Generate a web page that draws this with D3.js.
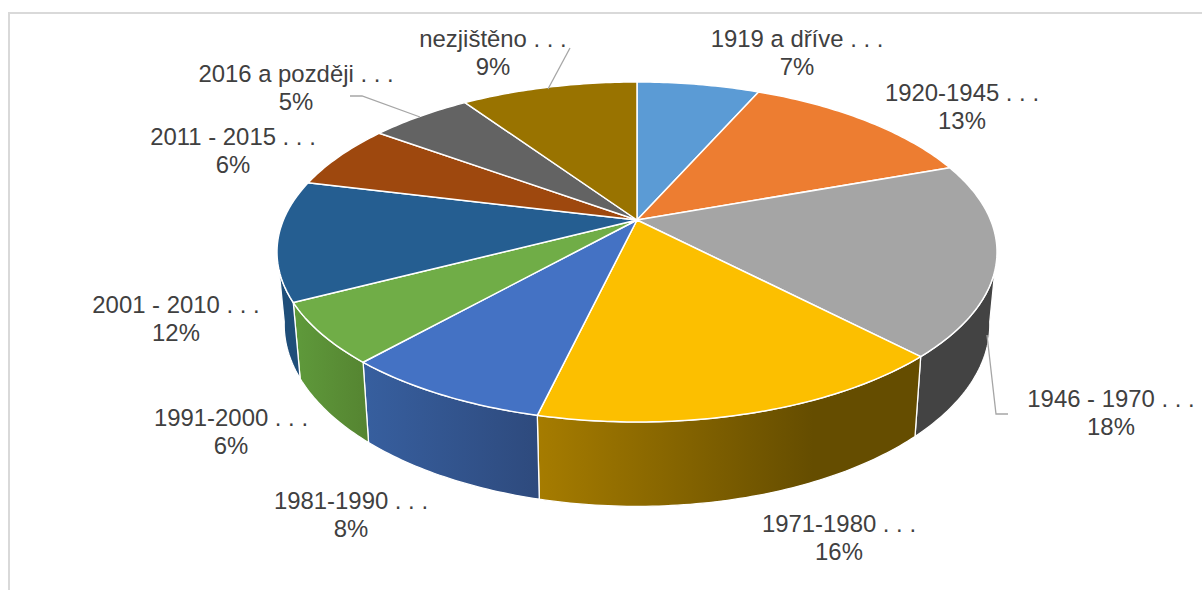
<!DOCTYPE html>
<html><head><meta charset="utf-8">
<script src="https://cdn.jsdelivr.net/npm/d3@7"></script>
<style>html,body{margin:0;padding:0;background:#fff;overflow:hidden}text{font-family:"Liberation Sans",Arial,sans-serif}</style>
</head><body><svg id="c" width="1202" height="590"></svg>
<script>
const categories=["1919 a dříve","1920-1945","1946 - 1970","1971-1980","1981-1990","1991-2000","2001 - 2010","2011 - 2015","2016 a později","nezjištěno"];
const values=[6.6,12.9,18.3,15.9,7.9,5.8,11.4,6.2,5.5,9.5];
const percentLabels=["7%","13%","18%","16%","8%","6%","12%","6%","5%","9%"];
const topColors=["#5b9bd5","#ed7d31","#a5a5a5","#fcbf00","#4472c4","#70ad47","#255e91","#9e480e","#636363","#997300"];
const wallLeft={2:"#434343",3:"#a67c00",4:"#375f9f",5:"#5f9a3b",6:"#1f4e79"};
const wallRight={2:"#434343",3:"#654d00",4:"#2e4a7d",5:"#558431",6:"#1f4e79"};
const labelCx=[797,962,1111,839,351,231,176,233,296,493];
const labelTop=[39,93,399,524,501,418,305,137,74,39];

const svg=d3.select("#c");
const defs=svg.append("defs");
// frame
svg.append("path").attr("d","M9,590V13H1202").attr("fill","none").attr("stroke","#d9d9d9").attr("stroke-width",2);

// perspective projection of the unit disc
const cx=637,cy=220,R=353.6,Ry=164,k=0.188;
function topPt(th){const u=Math.sin(th),v=-Math.cos(th),s=1/(1-k*v);return [cx+R*u*s,cy+Ry*v*s];}
function botPt(th){const p=topPt(th);return [cx+0.98*(p[0]-cx),p[1]+76+(p[1]-302)*0.07];}
const arcs=d3.pie().sort(null).value(d=>d)(values);
const line=d3.line();
function samples(a,b){const n=Math.max(2,Math.ceil(Math.abs(b-a)/0.015));return d3.range(n+1).map(i=>a+(b-a)*i/n);}

const wallStart=100*Math.PI/180,wallEnd=260*Math.PI/180;
const walls=svg.append("g");
arcs.forEach((d,i)=>{
  const a=Math.max(d.startAngle,wallStart),b=Math.min(d.endAngle,wallEnd);
  if(b<=a)return;
  const t=samples(a,b);
  const pts=t.map(x=>topPt(x)).concat(t.slice().reverse().map(x=>botPt(x)));
  const xs=pts.map(p=>p[0]),x0=d3.min(xs),x1=d3.max(xs);
  const id="w"+i;
  const g=defs.append("linearGradient").attr("id",id).attr("gradientUnits","userSpaceOnUse")
    .attr("x1",x0).attr("x2",x1).attr("y1",0).attr("y2",0);
  g.append("stop").attr("offset",0).attr("stop-color",wallLeft[i]);
  g.append("stop").attr("offset",i===3?0.72:1).attr("stop-color",wallRight[i]);
  g.append("stop").attr("offset",1).attr("stop-color",wallRight[i]);
  walls.append("path").attr("d",line(pts)+"Z").attr("fill",`url(#${id})`).attr("stroke","#fff").attr("stroke-width",1.3).attr("stroke-linejoin","round");
});

// top faces
svg.append("g").selectAll("path").data(arcs).join("path")
  .attr("d",d=>line([[cx,cy]].concat(samples(d.startAngle,d.endAngle).map(x=>topPt(x))))+"Z")
  .attr("fill",(d,i)=>topColors[i]).attr("stroke","#fff").attr("stroke-width",1.5).attr("stroke-linejoin","round");

// leader lines
function leader(pts){svg.append("path").attr("d",line(pts)).attr("fill","none").attr("stroke","#a6a6a6").attr("stroke-width",1.3);}
leader([[987,335],[996,414],[1008,414]]);
leader([[570,48],[548,89]]);
leader([[350,96],[362,96],[420,117]]);

// labels
const lab=svg.append("g").attr("fill","#404040").attr("font-size",23.9).attr("text-anchor","middle");
categories.forEach((c,i)=>{
  lab.append("text").attr("x",labelCx[i]).attr("y",labelTop[i]+8).text(c+" . . .");
  lab.append("text").attr("x",labelCx[i]).attr("y",labelTop[i]+36).text(percentLabels[i]);
});
</script></body></html>
